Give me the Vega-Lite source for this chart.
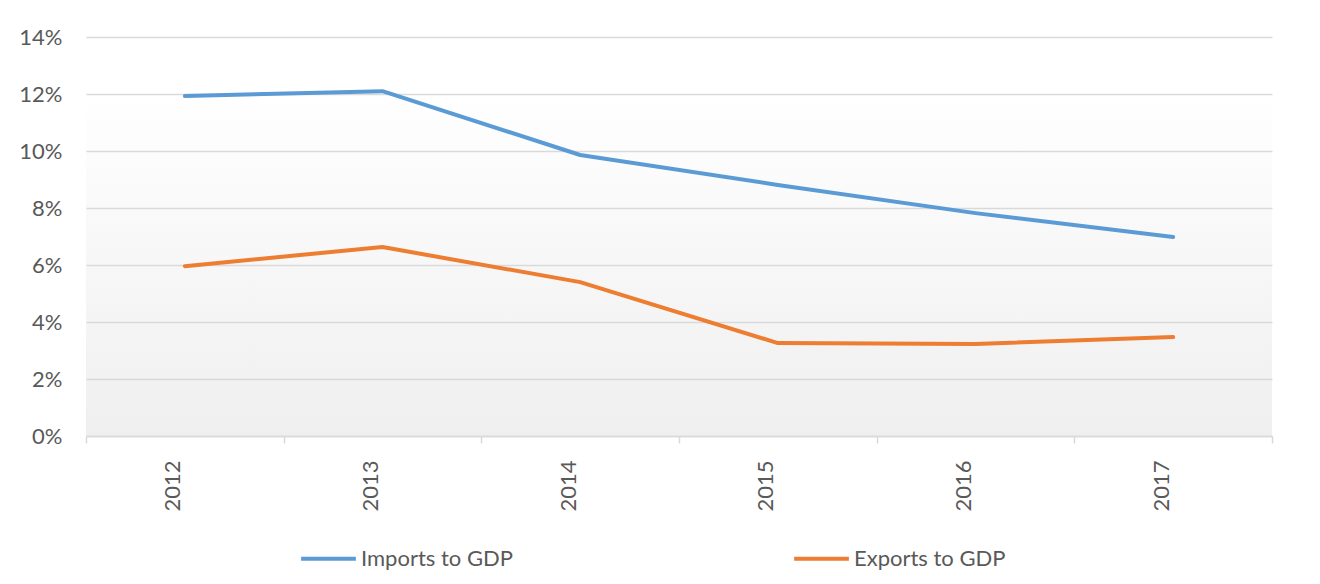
{
  "$schema": "https://vega.github.io/schema/vega-lite/v6.json",
  "width": 1186,
  "height": 399,
  "autosize": {"type": "none"},
  "padding": {"left": 86, "top": 37, "right": 48, "bottom": 148},
  "background": "#ffffff",
  "config": {
    "font": "Lato",
    "view": {
      "stroke": null,
      "fill": {
        "gradient": "linear",
        "x1": 0, "y1": 0, "x2": 0, "y2": 1,
        "stops": [
          {"offset": 0, "color": "#ffffff"},
          {"offset": 0.14, "color": "#ffffff"},
          {"offset": 1, "color": "#efefef"}
        ]
      }
    },
    "axis": {
      "labelFont": "Lato",
      "labelColor": "#595959",
      "labelFontSize": 22,
      "title": null
    }
  },
  "data": {
    "values": [
      {"year": "2012", "series": "Imports to GDP", "value": 0.1193},
      {"year": "2013", "series": "Imports to GDP", "value": 0.1210},
      {"year": "2014", "series": "Imports to GDP", "value": 0.0986},
      {"year": "2015", "series": "Imports to GDP", "value": 0.0881},
      {"year": "2016", "series": "Imports to GDP", "value": 0.0782},
      {"year": "2017", "series": "Imports to GDP", "value": 0.0698},
      {"year": "2012", "series": "Exports to GDP", "value": 0.0596},
      {"year": "2013", "series": "Exports to GDP", "value": 0.0663},
      {"year": "2014", "series": "Exports to GDP", "value": 0.0540},
      {"year": "2015", "series": "Exports to GDP", "value": 0.0326},
      {"year": "2016", "series": "Exports to GDP", "value": 0.0323},
      {"year": "2017", "series": "Exports to GDP", "value": 0.0347}
    ]
  },
  "mark": {"type": "line", "strokeWidth": 4, "strokeCap": "round", "strokeJoin": "round"},
  "encoding": {
    "x": {
      "field": "year",
      "type": "ordinal",
      "scale": {"type": "band", "paddingInner": 0, "paddingOuter": 0},
      "axis": {
        "labelAngle": -90,
        "labelAlign": "right",
        "labelBaseline": "middle",
        "labelPadding": 17,
        "labelOffset": -12,
        "domainColor": "#d9d9d9",
        "domainWidth": 1.5,
        "tickColor": "#d9d9d9",
        "tickWidth": 1.5,
        "tickSize": 7,
        "tickBand": "extent",
        "grid": false
      }
    },
    "y": {
      "field": "value",
      "type": "quantitative",
      "scale": {"domain": [0, 0.14]},
      "axis": {
        "format": ".0%",
        "values": [0, 0.02, 0.04, 0.06, 0.08, 0.1, 0.12, 0.14],
        "domain": false,
        "ticks": false,
        "labelPadding": 24,
        "gridColor": "#d9d9d9",
        "gridWidth": 1.5
      }
    },
    "color": {
      "field": "series",
      "type": "nominal",
      "scale": {
        "domain": ["Imports to GDP", "Exports to GDP"],
        "range": ["#5b9bd5", "#ed7d31"]
      },
      "legend": {
        "title": null,
        "orient": "none",
        "legendX": 213,
        "legendY": 492,
        "direction": "horizontal",
        "symbolType": "stroke",
        "symbolSize": 3000,
        "symbolStrokeWidth": 4,
        "labelOffset": 3,
        "labelFont": "Lato",
        "labelFontSize": 22,
        "labelColor": "#595959",
        "columnPadding": 273
      }
    }
  }
}
